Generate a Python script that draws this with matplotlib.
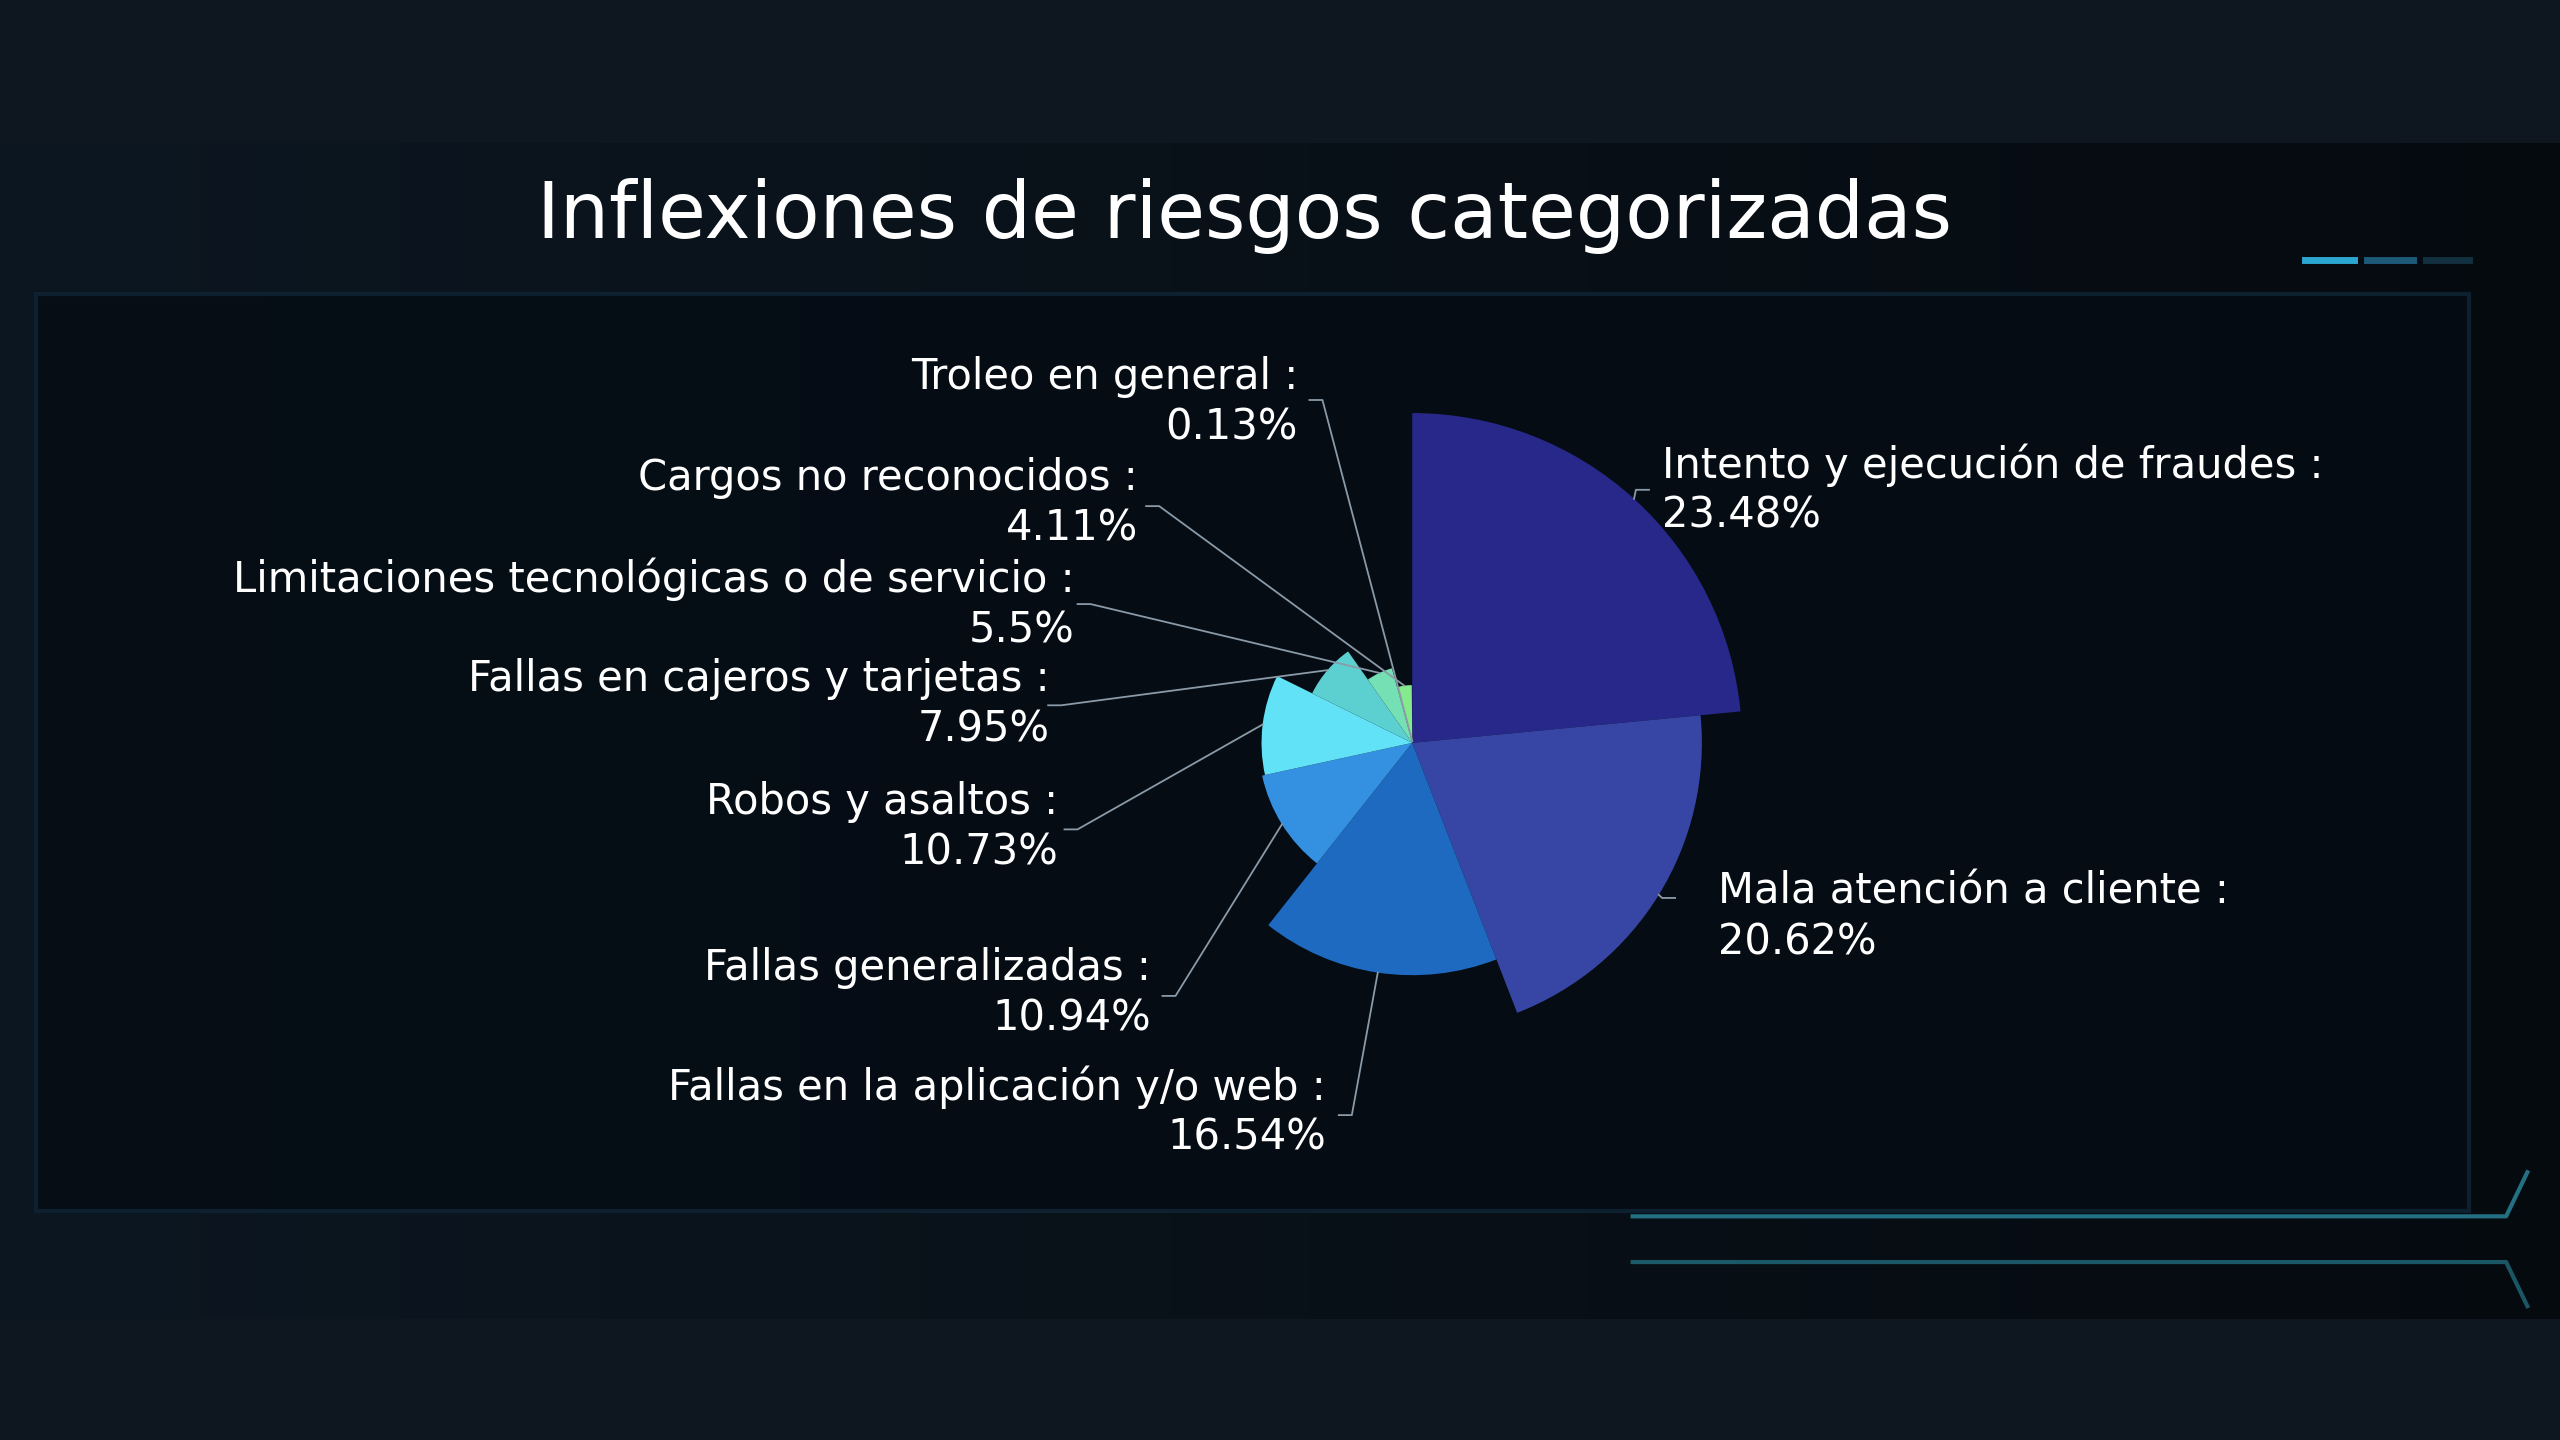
import numpy as np
import matplotlib
matplotlib.use("Agg")
import matplotlib.pyplot as plt
from matplotlib.patches import Wedge, Rectangle

categories = ["Intento y ejecución de fraudes", "Mala atención a cliente",
              "Fallas en la aplicación y/o web", "Fallas generalizadas",
              "Robos y asaltos", "Fallas en cajeros y tarjetas",
              "Limitaciones tecnológicas o de servicio", "Cargos no reconocidos",
              "Troleo en general"]
values = [23.48, 20.62, 16.54, 10.94, 10.73, 7.95, 5.5, 4.11, 0.13]
value_labels = ["23.48%", "20.62%", "16.54%", "10.94%", "10.73%", "7.95%", "5.5%", "4.11%", "0.13%"]
title = "Inflexiones de riesgos categorizadas"

colors = ["#27288a", "#3746a4", "#1e6ac0", "#3490e0", "#62e2f6",
          "#5cd0d0", "#74e0b4", "#84ea8c", "#90ee90"]

S = 2560 / 1568
fig = plt.figure(figsize=(25.6, 14.4), dpi=100)
ax = fig.add_axes([0, 0, 1, 1])
ax.set_xlim(0, 2560); ax.set_ylim(1440, 0); ax.axis("off")
ax.set_aspect("equal")
fig.patch.set_facecolor("#0e1720")

# background
grad = np.linspace(0, 1, 256)[None, :]
ax.imshow(np.dstack([0.02 + 0.03*(1-grad), 0.04 + 0.05*(1-grad), 0.06 + 0.07*(1-grad)]),
          extent=(0, 2560, 808*S, 88*S), aspect="auto", zorder=0)
ax.add_patch(Rectangle((22*S, 180*S), 1490*S, 562*S, facecolor="#050c14", alpha=0.85,
                       edgecolor="#0e2434", lw=3, zorder=1))
# decorative
for x0, x1, c in [(1412, 1442, "#2aa6d0"), (1450, 1478, "#1c5a78"), (1486, 1512, "#12303f")]:
    ax.plot([x0*S, x1*S], [159*S, 159*S], color=c, lw=5, zorder=2)
ax.plot([1000*S, 1535*S, 1548*S], [745*S, 745*S, 718*S], color="#2a8aa0", lw=3, alpha=0.8, zorder=2)
ax.plot([1000*S, 1535*S, 1548*S], [773*S, 773*S, 800*S], color="#2a8aa0", lw=3, alpha=0.6, zorder=2)

ax.text(762*S, 132*S, title, color="white", fontsize=56, ha="center", va="center",
        family="DejaVu Sans", zorder=5)

cx, cy = 865*S, 455*S
vmax = max(values)
R = 202*S
total = sum(values)
start = 90.0
label_pos = [(1018, 285, "l", 1002, 300), (1052, 546, "l", 1018, 550),
             (812, 666, "r", 828, 683), (705, 593, "r", 720, 610),
             (648, 491, "r", 660, 508), (643, 416, "r", 650, 432),
             (658, 355, "r", 668, 370), (697, 293, "r", 710, 310),
             (795, 231, "r", 810, 245)]
for i, (cat, v, vl) in enumerate(zip(categories, values, value_labels)):
    span = v / total * 360
    t1 = start; t0 = start - span
    r = R * v / vmax
    ax.add_patch(Wedge((cx, cy), r, -t1, -t0, facecolor=colors[i], edgecolor="none", zorder=3))
    mid = np.deg2rad((t0 + t1) / 2)
    sx, sy = cx + r*np.cos(mid), cy - r*np.sin(mid)
    tx, ty, side, ex, ey = label_pos[i]
    ex, ey = ex*S, ey*S
    ax.plot([sx, ex, ex + (8 if side == "l" else -8)*S], [sy, ey, ey], color="#8a9aa8", lw=1.3, zorder=4)
    ha = "left" if side == "l" else "right"
    ax.text(tx*S, ty*S, cat + " :", color="white", fontsize=30, ha=ha, va="center", family="DejaVu Sans", zorder=5)
    ax.text(tx*S, (ty+31)*S, vl, color="white", fontsize=30, ha=ha, va="center", family="DejaVu Sans", zorder=5)
    start = t0

fig.savefig("out.png", dpi=100, facecolor=fig.get_facecolor())
